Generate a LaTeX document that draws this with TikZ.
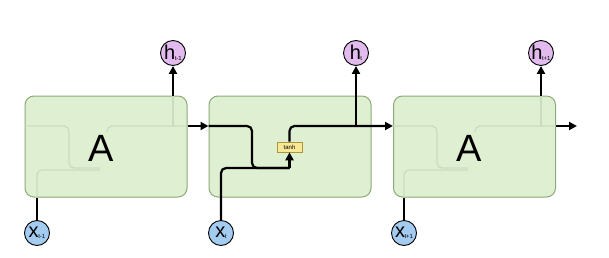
\documentclass[tikz,border=0pt]{standalone}
\usepackage{fontspec}
\setmainfont{Liberation Sans}
\usetikzlibrary{arrows.meta,calc}
\definecolor{cellfill}{RGB}{223,240,210}
\definecolor{cellborder}{RGB}{140,170,120}
\definecolor{ghost}{RGB}{202,220,192}
\definecolor{hfill}{RGB}{226,186,238}
\definecolor{xfill}{RGB}{164,204,240}
\definecolor{tanhfill}{RGB}{250,232,150}
\definecolor{tanhborder}{RGB}{170,150,60}
\newcommand\circlbl[2]{\fontsize{20}{20}\selectfont #1\kern-0.5pt\raisebox{-1pt}{\fontsize{6}{6}\selectfont #2}}
\begin{document}
\begin{tikzpicture}[x=1pt,y=-1pt,
 cell/.style={draw=cellborder,fill=cellfill,line width=1pt,rounded corners=9pt,minimum width=162pt,minimum height=101pt,inner sep=0},
 hnode/.style={circle,draw=black,line width=0.9pt,fill=hfill,minimum size=25pt,inner sep=0},
 xnode/.style={circle,draw=black,line width=0.9pt,fill=xfill,minimum size=25pt,inner sep=0},
 wire/.style={line width=2.2pt,rounded corners=5pt},
 arr/.style={-{Triangle[length=8pt,width=8pt]}},
 ghostwire/.style={draw=ghost,line width=1.2pt,rounded corners=5pt},
 biglbl/.style={font=\fontsize{38}{38}\selectfont,inner sep=0},
 gate/.style={draw=tanhborder,fill=tanhfill,line width=0.6pt,inner sep=1pt,minimum width=25pt,minimum height=10pt,font=\fontsize{6}{6}\selectfont}
]
\useasboundingbox (0,0) rectangle (609,257);
\fill[white] (0,0) rectangle (609,257);

% cells
\node[cell] (A1) at (106,146.5) {};
\node[cell] (A2) at (290,146.5) {};
\node[cell] (A3) at (474.5,146.5) {};

% ghost wires (cell 1)
\draw[ghostwire] (25,126) -- (69,126) -- (69,168) -- (100,168);
\draw[ghostwire] (37,197) -- (37,170) -- (100,170);
\draw[ghostwire] (107,132) -- (107,126) -- (187,126);
\draw[ghostwire] (173,126) -- (173,96);
% ghost wires (cell 3)
\draw[ghostwire] (393,126) -- (437,126) -- (437,168) -- (468,168);
\draw[ghostwire] (404,197) -- (404,170) -- (468,170);
\draw[ghostwire] (475,132) -- (475,126) -- (556,126);
\draw[ghostwire] (541,126) -- (541,96);

% labels A
\node[biglbl] (L1) at (101,148.5) {A};
\node[biglbl] (L3) at (469,148.5) {A};

% inputs and outputs
\node[xnode] (x1) at (37,233) {\circlbl{x}{t-1}};
\node[xnode] (x2) at (221,233) {\circlbl{x}{t}};
\node[xnode] (x3) at (404,233) {\circlbl{x}{t+1}};
\node[hnode] (h1) at (173,53) {\circlbl{h}{t-1}};
\node[hnode] (h2) at (356,53) {\circlbl{h}{t}};
\node[hnode] (h3) at (541,53) {\circlbl{h}{t+1}};

\node[gate] (tanh) at (289.5,147) {tanh};

\coordinate (o1) at ([yshift=20.5pt]A1.east);
\coordinate (i2) at ([yshift=20.5pt]A2.west);
\coordinate (i3) at ([yshift=20.5pt]A3.west);
\coordinate (o3) at ([yshift=20.5pt]A3.east);
\coordinate (e3) at (577,126);
\coordinate (j2) at (289.5,168);

% cell 1
\draw[wire] (x1.north) -- (x1.north |- A1.south);
\draw[wire,arr] (h1.south |- A1.north) -- (h1.south);
\draw[wire,arr] (o1) -- (i2);

% cell 2
\draw[wire] (i2) -- (252,126) -- (252,168) -- (j2);
\draw[wire] (x2.north) -- (221,168) -- (j2);
\draw[wire,arr] (j2) -- (tanh.south);
\draw[wire,arr] (tanh.north) -- (289.5,126) -- (i3);
\draw[wire,arr] (h2.south |- i3) -- (h2.south);

% cell 3
\draw[wire] (x3.north) -- (x3.north |- A3.south);
\draw[wire,arr] (h3.south |- A3.north) -- (h3.south);
\draw[wire,arr] (o3) -- (e3);
\end{tikzpicture}
\end{document}
